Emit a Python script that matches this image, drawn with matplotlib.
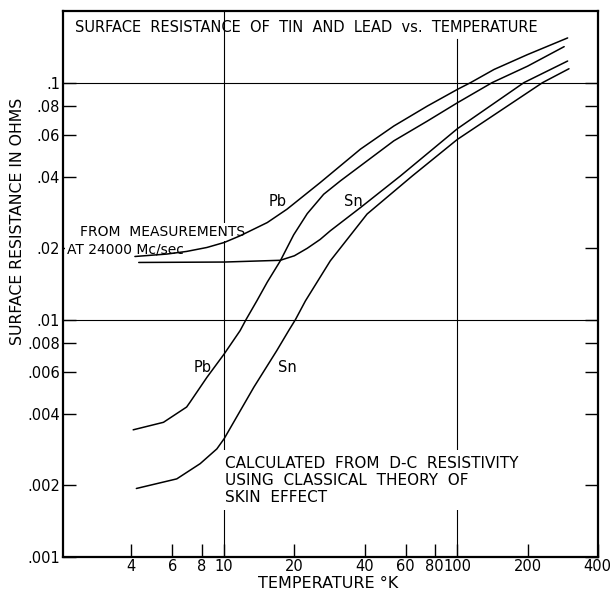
"""
Surface resistance of tin and lead vs. temperature (log-log),
redrawn from a scanned figure. Values read off the picture.
"""
import matplotlib
matplotlib.use("Agg")
import matplotlib.pyplot as plt
from matplotlib.ticker import FixedLocator, FixedFormatter, NullLocator

# --- data (T in K, R in ohms) ---
T_meas_pb = [4.14, 5.67, 6.9, 8.43, 10, 11.7, 15.3, 18.6, 25.8, 38.4, 53.4, 74.3,
             100, 114, 143.6, 200, 297]
R_meas_pb = [0.01847, 0.01891, 0.0194, 0.02016, 0.02116, 0.02258, 0.02568, 0.02925,
             0.03786, 0.0524, 0.0656, 0.0796, 0.0936, 0.1, 0.1136, 0.1313, 0.1543]

T_calc_pb = [4.07, 5.49, 6.9, 7.14, 8.43, 10, 11.7, 12.4, 13.8, 15.3, 17.4, 19.86, 22.7,
             26.7, 31.5, 53.4, 74.3, 100, 141, 200, 287]
R_calc_pb = [0.00343, 0.00369, 0.00428, 0.00449, 0.00571, 0.00717, 0.00899, 0.01, 0.012,
             0.0144, 0.0177, 0.0228, 0.028, 0.0338, 0.0385, 0.0568, 0.0688, 0.0822, 0.1,
             0.1173, 0.1418]

T_meas_sn = [4.3, 10, 17.4, 20, 22.7, 25.8, 28.5, 38.4, 57.0, 100, 193, 297]
R_meas_sn = [0.01743, 0.0175, 0.0178, 0.0186, 0.0200, 0.0218, 0.0237, 0.0297, 0.0404,
             0.0639, 0.1, 0.1233]

T_calc_sn = [4.2, 6.26, 7.89, 9.3, 10, 13.4, 16.8, 18.9, 20.2, 22.3, 28.5, 41.0, 64.1,
             100, 232, 301]
R_calc_sn = [0.00194, 0.00213, 0.00247, 0.00285, 0.00315, 0.00519, 0.0074, 0.00899, 0.01,
             0.012, 0.0177, 0.0279, 0.0404, 0.0576, 0.1, 0.1144]

x_ticks = [4, 6, 8, 10, 20, 40, 60, 80, 100, 200, 400]
x_tick_labels = ["4", "6", "8", "10", "20", "40", "60", "80", "100", "200", "400"]
y_ticks = [0.001, 0.002, 0.004, 0.006, 0.008, 0.01, 0.02, 0.04, 0.06, 0.08, 0.1]
y_tick_labels = [".001", ".002", ".004", ".006", ".008", ".01", ".02", ".04", ".06", ".08", ".1"]

plt.rcParams["font.family"] = "DejaVu Sans"

fig = plt.figure(figsize=(6.15, 5.91), dpi=100)
ax = fig.add_axes([0.102, 0.058, 0.870, 0.923])
ax.set_xscale("log")
ax.set_yscale("log")
ax.set_xlim(2.03, 400)
ax.set_ylim(0.001, 0.2)

# the only grid lines on the original (the 100 K one stops under the title)
ax.axvline(10, color="black", lw=0.8, zorder=1)
ax.axvline(100, ymax=0.95, color="black", lw=0.8, zorder=1)
for yv in (0.01, 0.1):
    ax.axhline(yv, color="black", lw=0.8, zorder=1)

curve_kw = dict(color="black", lw=1.1, zorder=4, solid_capstyle="round",
                solid_joinstyle="round")
ax.plot(T_meas_pb, R_meas_pb, **curve_kw)
ax.plot(T_calc_pb, R_calc_pb, **curve_kw)
ax.plot(T_meas_sn, R_meas_sn, **curve_kw)
ax.plot(T_calc_sn, R_calc_sn, **curve_kw)

for s in ax.spines.values():
    s.set_linewidth(1.6)

ax.xaxis.set_major_locator(FixedLocator(x_ticks))
ax.xaxis.set_major_formatter(FixedFormatter(x_tick_labels))
ax.yaxis.set_major_locator(FixedLocator(y_ticks))
ax.yaxis.set_major_formatter(FixedFormatter(y_tick_labels))
ax.xaxis.set_minor_locator(NullLocator())
ax.yaxis.set_minor_locator(NullLocator())
ax.tick_params(axis="x", direction="in", length=9.5, width=1.0, labelsize=10.5, pad=2)
ax.tick_params(axis="y", direction="in", length=9.5, width=1.0, labelsize=10.5, pad=2,
               right=True)

ax.set_ylabel("SURFACE RESISTANCE IN OHMS", fontsize=11.3)
ax.yaxis.set_label_coords(-0.0705, 0.615)
ax.set_xlabel("TEMPERATURE °K", fontsize=11.5)
ax.xaxis.label.set_verticalalignment("baseline")
ax.xaxis.set_label_coords(0.496, -0.0575)

white = dict(facecolor="white", edgecolor="none", pad=1.5)
ax.text(2.29, 0.1713, "SURFACE  RESISTANCE  OF  TIN  AND  LEAD  vs.  TEMPERATURE",
        fontsize=10.5, ha="left", va="center", zorder=2)
ax.text(2.40, 0.0235, "FROM  MEASUREMENTS", fontsize=10, ha="left", va="center",
        zorder=2, bbox=white)
ax.text(2.11, 0.0197, "AT 24000 Mc/sec", fontsize=10, ha="left", va="center",
        zorder=2, bbox=white)
ax.text(10.1, 0.0021, "CALCULATED  FROM  D-C  RESISTIVITY\nUSING  CLASSICAL  THEORY  OF\nSKIN  EFFECT",
        fontsize=11, ha="left", va="center", linespacing=1.18, zorder=2,
        bbox=dict(facecolor="white", edgecolor="none", pad=4))

ax.text(16.9, 0.0314, "Pb", fontsize=10.5, ha="center", va="center", zorder=3)
ax.text(35.8, 0.0314, "Sn", fontsize=10.5, ha="center", va="center", zorder=3)
ax.text(8.12, 0.00628, "Pb", fontsize=10.5, ha="center", va="center", zorder=3)
ax.text(18.6, 0.00628, "Sn", fontsize=10.5, ha="center", va="center", zorder=3)

fig.savefig("out.png", dpi=100)
